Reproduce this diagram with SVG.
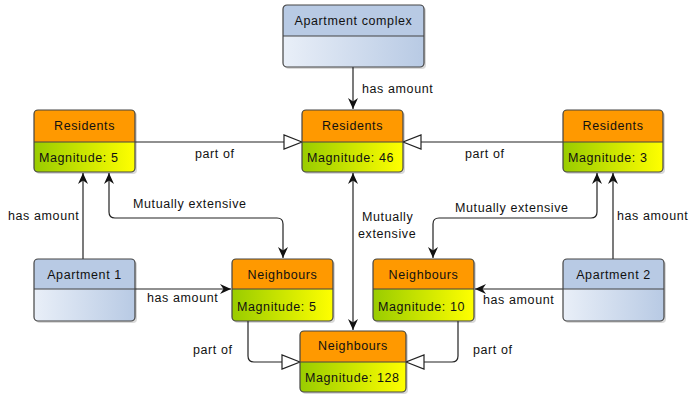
<svg xmlns="http://www.w3.org/2000/svg" width="689" height="396" viewBox="0 0 689 396">
<style>
text{font-family:"Liberation Sans",Arial,sans-serif;font-size:12.5px;letter-spacing:0.6px;fill:#111}
.c{text-anchor:middle}
.box{fill:none;stroke:#444;stroke-width:1.2}
.div{stroke:#444;stroke-width:1.2}
.sh{fill:#000;opacity:0.15}
.hdrO{fill:#ff9900}
.hdrB{fill:#b8cae4}
.con{fill:none;stroke:#222;stroke-width:1.2}
</style>
<defs>
<linearGradient id="gY" x1="0" y1="0" x2="1" y2="0"><stop offset="0" stop-color="#99cc00"/><stop offset="1" stop-color="#ffff00"/></linearGradient>
<linearGradient id="gB" x1="0" y1="0" x2="1" y2="0"><stop offset="0" stop-color="#e9eff8"/><stop offset="1" stop-color="#b8cae4"/></linearGradient>
<marker id="ar" markerUnits="userSpaceOnUse" markerWidth="14" markerHeight="14" viewBox="-12 -7 14 14" refX="0" refY="0" orient="auto-start-reverse"><path d="M0,0 L-11,-5 L-7.5,0 L-11,5 Z" fill="#111"/></marker>
<marker id="tri" markerUnits="userSpaceOnUse" markerWidth="22" markerHeight="18" viewBox="-20 -9 22 18" refX="0" refY="0" orient="auto"><path d="M0,0 L-18,-7 L-18,7 Z" fill="#fff" stroke="#222" stroke-width="1.2"/></marker>
</defs>

<g id="connectors">
<path class="con" d="M353,67 L353,109" marker-end="url(#ar)"/>
<path class="con" d="M135,142 L302,142" marker-end="url(#tri)"/>
<path class="con" d="M563,142 L403,142" marker-end="url(#tri)"/>
<path class="con" d="M83,259 L83,173" marker-end="url(#ar)"/>
<path class="con" d="M613,259 L613,173" marker-end="url(#ar)"/>
<path class="con" d="M109,173 L109,212 Q109,218 115,218 L277,218 Q283,218 283,224 L283,258" marker-start="url(#ar)" marker-end="url(#ar)"/>
<path class="con" d="M597,173 L597,212 Q597,218 591,218 L439,218 Q433,218 433,224 L433,258" marker-start="url(#ar)" marker-end="url(#ar)"/>
<path class="con" d="M353,173 L353,330" marker-start="url(#ar)" marker-end="url(#ar)"/>
<path class="con" d="M135,289 L231,289" marker-end="url(#ar)"/>
<path class="con" d="M563,289 L475,289" marker-end="url(#ar)"/>
<path class="con" d="M248,321 L248,356 Q248,362 254,362 L300,362" marker-end="url(#tri)"/>
<path class="con" d="M458,321 L458,356 Q458,362 452,362 L406,362" marker-end="url(#tri)"/>
<text x="362" y="93">has amount</text>
<text x="195" y="158">part of</text>
<text x="465" y="158">part of</text>
<text x="8" y="220">has amount</text>
<text x="133" y="208">Mutually extensive</text>
<text x="455" y="212">Mutually extensive</text>
<text x="362" y="221">Mutually</text>
<text x="358" y="238">extensive</text>
<text x="617" y="220">has amount</text>
<text x="147" y="302">has amount</text>
<text x="483" y="304">has amount</text>
<text x="193" y="354">part of</text>
<text x="473" y="354">part of</text>
</g>

<g id="apartment-complex">
<rect class="sh" x="285" y="7" width="141" height="62" rx="4"/>
<rect x="283" y="5" width="141" height="62" rx="4" fill="url(#gB)"/>
<path class="hdrB" d="M283,36 V9 Q283,5 287,5 H420 Q424,5 424,9 V36 Z"/>
<rect class="box" x="283" y="5" width="141" height="62" rx="4"/>
<line class="div" x1="283" y1="36" x2="424" y2="36"/>
<text class="c" x="353.5" y="25">Apartment complex</text>
</g>

<g id="residents-5">
<rect class="sh" x="36" y="112" width="101" height="62" rx="4"/>
<rect x="34" y="110" width="101" height="62" rx="4" fill="url(#gY)"/>
<path class="hdrO" d="M34,142 V114 Q34,110 38,110 H131 Q135,110 135,114 V142 Z"/>
<rect class="box" x="34" y="110" width="101" height="62" rx="4"/>
<line class="div" x1="34" y1="142" x2="135" y2="142"/>
<text class="c" x="84.5" y="130">Residents</text>
<text x="39" y="162">Magnitude: 5</text>
</g>

<g id="residents-46">
<rect class="sh" x="304" y="112" width="101" height="62" rx="4"/>
<rect x="302" y="110" width="101" height="62" rx="4" fill="url(#gY)"/>
<path class="hdrO" d="M302,142 V114 Q302,110 306,110 H399 Q403,110 403,114 V142 Z"/>
<rect class="box" x="302" y="110" width="101" height="62" rx="4"/>
<line class="div" x1="302" y1="142" x2="403" y2="142"/>
<text class="c" x="352.5" y="130">Residents</text>
<text x="307" y="162">Magnitude: 46</text>
</g>

<g id="residents-3">
<rect class="sh" x="565" y="112" width="100" height="62" rx="4"/>
<rect x="563" y="110" width="100" height="62" rx="4" fill="url(#gY)"/>
<path class="hdrO" d="M563,142 V114 Q563,110 567,110 H659 Q663,110 663,114 V142 Z"/>
<rect class="box" x="563" y="110" width="100" height="62" rx="4"/>
<line class="div" x1="563" y1="142" x2="663" y2="142"/>
<text class="c" x="613" y="130">Residents</text>
<text x="568" y="162">Magnitude: 3</text>
</g>

<g id="apartment-1">
<rect class="sh" x="36" y="261" width="101" height="62" rx="4"/>
<rect x="34" y="259" width="101" height="62" rx="4" fill="url(#gB)"/>
<path class="hdrB" d="M34,289 V263 Q34,259 38,259 H131 Q135,259 135,263 V289 Z"/>
<rect class="box" x="34" y="259" width="101" height="62" rx="4"/>
<line class="div" x1="34" y1="289" x2="135" y2="289"/>
<text class="c" x="84.5" y="279">Apartment 1</text>
</g>

<g id="neighbours-5">
<rect class="sh" x="234" y="261" width="101" height="62" rx="4"/>
<rect x="232" y="259" width="101" height="62" rx="4" fill="url(#gY)"/>
<path class="hdrO" d="M232,289 V263 Q232,259 236,259 H329 Q333,259 333,263 V289 Z"/>
<rect class="box" x="232" y="259" width="101" height="62" rx="4"/>
<line class="div" x1="232" y1="289" x2="333" y2="289"/>
<text class="c" x="282.5" y="279">Neighbours</text>
<text x="237" y="311">Magnitude: 5</text>
</g>

<g id="neighbours-10">
<rect class="sh" x="375" y="261" width="101" height="62" rx="4"/>
<rect x="373" y="259" width="101" height="62" rx="4" fill="url(#gY)"/>
<path class="hdrO" d="M373,289 V263 Q373,259 377,259 H470 Q474,259 474,263 V289 Z"/>
<rect class="box" x="373" y="259" width="101" height="62" rx="4"/>
<line class="div" x1="373" y1="289" x2="474" y2="289"/>
<text class="c" x="423.5" y="279">Neighbours</text>
<text x="378" y="311">Magnitude: 10</text>
</g>

<g id="apartment-2">
<rect class="sh" x="565" y="261" width="101" height="62" rx="4"/>
<rect x="563" y="259" width="101" height="62" rx="4" fill="url(#gB)"/>
<path class="hdrB" d="M563,289 V263 Q563,259 567,259 H660 Q664,259 664,263 V289 Z"/>
<rect class="box" x="563" y="259" width="101" height="62" rx="4"/>
<line class="div" x1="563" y1="289" x2="664" y2="289"/>
<text class="c" x="613.5" y="279">Apartment 2</text>
</g>

<g id="neighbours-128">
<rect class="sh" x="302" y="333" width="106" height="61" rx="4"/>
<rect x="300" y="331" width="106" height="61" rx="4" fill="url(#gY)"/>
<path class="hdrO" d="M300,362 V335 Q300,331 304,331 H402 Q406,331 406,335 V362 Z"/>
<rect class="box" x="300" y="331" width="106" height="61" rx="4"/>
<line class="div" x1="300" y1="362" x2="406" y2="362"/>
<text class="c" x="353" y="350">Neighbours</text>
<text x="305" y="382">Magnitude: 128</text>
</g>
</svg>
